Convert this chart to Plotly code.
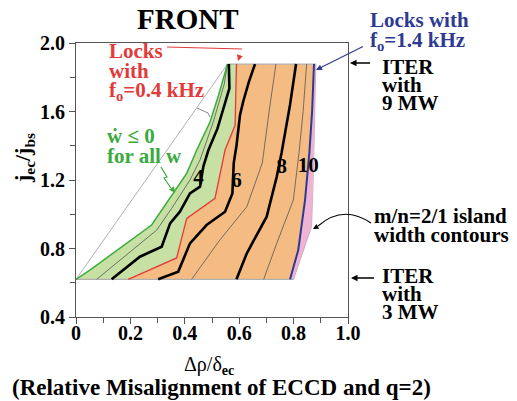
import plotly.graph_objects as go

# ---------------- data ----------------
y_bot = 0.62
y_top = 1.877

diag_x = [0.0, 0.557]
diag_y = [0.62, 1.877]

green_x = [0.0, 0.051, 0.278, 0.346, 0.407, 0.444, 0.493, 0.525, 0.557]
green_y = [0.62, 0.674, 0.937, 1.093, 1.239, 1.375, 1.54, 1.70, 1.877]

red_x = [0.192, 0.37, 0.407, 0.511, 0.548, 0.585, 0.59]
red_y = [0.62, 0.745, 0.976, 1.093, 1.375, 1.52, 1.877]

blue_x = [0.787, 0.817, 0.842, 0.858, 0.868, 0.875]
blue_y = [0.62, 0.79, 1.083, 1.36, 1.6, 1.877]

pink_x = [0.80, 0.866, 0.872, 0.882]
pink_y = [0.62, 0.927, 1.18, 1.877]

c3_x = [0.076, 0.297, 0.352, 0.419, 0.456, 0.505, 0.545, 0.557]
c3_y = [0.62, 0.908, 1.035, 1.2, 1.317, 1.54, 1.76, 1.877]

c4_x = [0.131, 0.235, 0.315, 0.346, 0.382, 0.419, 0.456, 0.468, 0.487, 0.52, 0.564, 0.562]
c4_y = [0.62, 0.752, 0.81, 0.947, 1.015, 1.122, 1.161, 1.278, 1.375, 1.5, 1.735, 1.877]

c6_x = [0.302, 0.376, 0.419, 0.48, 0.548, 0.575, 0.58, 0.59, 0.603, 0.615, 0.635, 0.658]
c6_y = [0.62, 0.665, 0.83, 0.937, 1.015, 1.122, 1.30, 1.40, 1.58, 1.66, 1.77, 1.877]

c7_x = [0.425, 0.529, 0.628, 0.685, 0.71, 0.735]
c7_y = [0.62, 0.85, 1.044, 1.30, 1.60, 1.877]

c8_x = [0.59, 0.628, 0.701, 0.738, 0.756, 0.787, 0.809]
c8_y = [0.62, 0.772, 0.986, 1.219, 1.36, 1.64, 1.877]

c9_x = [0.69, 0.738, 0.799, 0.82, 0.835, 0.848]
c9_y = [0.62, 0.83, 1.083, 1.36, 1.6, 1.877]

contour_labels = ["4", "6", "8", "10"]
label_x = [0.45, 0.59, 0.756, 0.854]
label_y = [1.21, 1.19, 1.27, 1.28]

x_ticks = [0, 0.2, 0.4, 0.6, 0.8, 1.0]
x_ticktext = ["0", "0.2", "0.4", "0.6", "0.8", "1.0"]
y_ticks = [0.4, 0.8, 1.2, 1.6, 2.0]
y_ticktext = ["0.4", "0.8", "1.2", "1.6", "2.0"]

# ---------------- styling ----------------
FONT = "Liberation Serif"
GREEN_FILL = "#c6e1a3"
GREEN_LINE = "#3aab3c"
ORANGE_FILL = "#f4bc82"
PINK_FILL = "#efb3d3"
RED = "#e23a3a"
BLUE = "#2e3a92"
GRAY = "#b0b0b0"

# plot area in (page) pixels
L, R, T, B = 76, 348, 43, 317
W, H = 517, 401
OFF = 8  # page body margin


def px(xp):
    return (xp - L) / (R - L)


def py(yp):
    return (B - yp) / (B - T)


fig = go.Figure()

# filled regions
fig.add_trace(go.Scatter(x=green_x + red_x[::-1], y=green_y + red_y[::-1],
                         fill="toself", fillcolor=GREEN_FILL, mode="lines",
                         line=dict(width=0), hoverinfo="skip"))
fig.add_trace(go.Scatter(x=red_x + blue_x[::-1], y=red_y + blue_y[::-1],
                         fill="toself", fillcolor=ORANGE_FILL, mode="lines",
                         line=dict(width=0), hoverinfo="skip"))
fig.add_trace(go.Scatter(x=blue_x + pink_x[::-1], y=blue_y + pink_y[::-1],
                         fill="toself", fillcolor=PINK_FILL, mode="lines",
                         line=dict(width=0), hoverinfo="skip"))

# outline (top/bottom edges, diagonal)
fig.add_trace(go.Scatter(x=[green_x[0], pink_x[0]], y=[y_bot, y_bot], mode="lines",
                         line=dict(color=GRAY, width=1.2)))
fig.add_trace(go.Scatter(x=[green_x[-1], pink_x[-1]], y=[y_top, y_top], mode="lines",
                         line=dict(color=GRAY, width=1.2)))
fig.add_trace(go.Scatter(x=diag_x, y=diag_y, mode="lines",
                         line=dict(color=GRAY, width=1)))
fig.add_trace(go.Scatter(x=pink_x, y=pink_y, mode="lines",
                         line=dict(color="#c9a0b8", width=0.8)))

# thin contours
for cx, cy in [(c3_x, c3_y), (c7_x, c7_y), (c9_x, c9_y)]:
    fig.add_trace(go.Scatter(x=cx, y=cy, mode="lines",
                             line=dict(color="#555555", width=0.8)))
# boundaries
fig.add_trace(go.Scatter(x=green_x, y=green_y, mode="lines",
                         line=dict(color=GREEN_LINE, width=1.5)))
fig.add_trace(go.Scatter(x=red_x, y=red_y, mode="lines",
                         line=dict(color=RED, width=1.3)))
fig.add_trace(go.Scatter(x=blue_x, y=blue_y, mode="lines",
                         line=dict(color=BLUE, width=2)))
# thick contours
for cx, cy in [(c4_x, c4_y), (c6_x, c6_y), (c8_x, c8_y)]:
    fig.add_trace(go.Scatter(x=cx, y=cy, mode="lines",
                             line=dict(color="black", width=2.6)))

# contour labels
fig.add_trace(go.Scatter(x=label_x, y=label_y, mode="text", text=contour_labels,
                         textfont=dict(family=FONT, size=21, color="black", weight="bold"),
                         textposition="middle center"))

annotations = []


def txt(text, x, y, size=21, color="black", xanchor="left", bold=True, angle=0):
    annotations.append(dict(
        text=text, x=px(x), y=py(y), xref="paper", yref="paper",
        xanchor=xanchor, yanchor="middle", showarrow=False, textangle=angle,
        font=dict(family=FONT, size=size, color=color, weight="bold" if bold else "normal")))


txt("FRONT", 188, 19, size=29, xanchor="center")
txt("Locks with", 368, 20, color=BLUE)
txt("f<sub>o</sub>=1.4 kHz", 368, 41, color=BLUE)
txt("ITER", 380, 67)
txt("with", 380, 85)
txt("9 MW", 380, 103)
txt("Locks", 107, 51, color=RED)
txt("with", 107, 71, color=RED)
txt("f<sub>o</sub>=0.4 kHz", 107, 91, color=RED)
txt("ẇ ≤ 0", 105, 136, color=GREEN_LINE)
txt("for all w", 105, 156, color=GREEN_LINE)
txt("m/n=2/1 island", 372, 216)
txt("width contours", 372, 235)
txt("ITER", 380, 276)
txt("with", 380, 294)
txt("3 MW", 380, 312)
txt("Δρ/δ<sub><b>ec</b></sub>", 209, 365, size=20, xanchor="center", bold=False)
txt("(Relative Misalignment of ECCD and q=2)", 221, 387, size=23, xanchor="center")
txt("j<sub>ec</sub>/j<sub>bs</sub>", 24, 158, size=22, xanchor="center", angle=-90)


def arrow(x0, y0, x1, y1, color="black", width=1, head=2, size=1):
    # arrow pointing from (x0,y0) to (x1,y1), pixel coords
    annotations.append(dict(
        x=px(x1), y=py(y1), xref="paper", yref="paper",
        ax=x0 - x1, ay=y0 - y1, axref="pixel", ayref="pixel",
        showarrow=True, arrowhead=head, arrowsize=size, arrowwidth=width,
        arrowcolor=color, text=" "))


arrow(366, 45, 316, 70, color=BLUE, width=1.2)
arrow(373, 63, 350, 63, width=1.3)
arrow(377, 278, 351, 278, width=1.3)
arrow(242, 49, 238, 61, color=RED, width=1.2)
arrow(170, 186, 175, 193, color=GREEN_LINE, width=1.2)
arrow(320, 225, 313, 229, width=1.1)

shapes = []


def path(points, color, width):
    d = "M " + " L ".join(f"{px(a):.5f},{py(b):.5f}" for a, b in points)
    shapes.append(dict(type="path", path=d, xref="paper", yref="paper",
                       line=dict(color=color, width=width)))


# red leader line
path([(167, 47), (242, 49)], RED, 1.2)
# green zigzag
path([(161, 167), (167, 177), (164, 178), (171, 188)], GREEN_LINE, 1.2)
# gray bracket
path([(197, 108), (208, 113), (210, 117)], "#888888", 1)
# curved arrow for island contours
shapes.append(dict(type="path", xref="paper", yref="paper",
                   path=f"M {px(371):.5f},{py(223):.5f} Q {px(343):.5f},{py(204):.5f} {px(318):.5f},{py(226):.5f}",
                   line=dict(color="black", width=1.1)))

fig.update_layout(
    width=W - OFF, height=H - OFF,
    margin=dict(l=L - OFF, r=W - R, t=T - OFF, b=H - B, pad=0, autoexpand=False),
    paper_bgcolor="white", plot_bgcolor="white",
    showlegend=False,
    annotations=annotations, shapes=shapes,
    xaxis=dict(range=[0, 1], tickvals=x_ticks, ticktext=x_ticktext,
               showgrid=False, zeroline=False, showline=True, mirror=True,
               linecolor="#555555", linewidth=1, ticks="outside", ticklen=6,
               tickcolor="#555555", ticklabelstandoff=-8,
               minor=dict(dtick=0.1, ticks="outside", ticklen=5, tickcolor="#555555"),
               tickfont=dict(family=FONT, size=20, color="black", weight="bold")),
    yaxis=dict(range=[0.4, 2.0], tickvals=y_ticks, ticktext=y_ticktext,
               showgrid=False, zeroline=False, showline=True, mirror=True,
               linecolor="#555555", linewidth=1, ticks="outside", ticklen=6,
               tickcolor="#555555",
               minor=dict(dtick=0.2, ticks="outside", ticklen=5, tickcolor="#555555"),
               tickfont=dict(family=FONT, size=20, color="black", weight="bold")),
)

fig.write_html("out.html")
